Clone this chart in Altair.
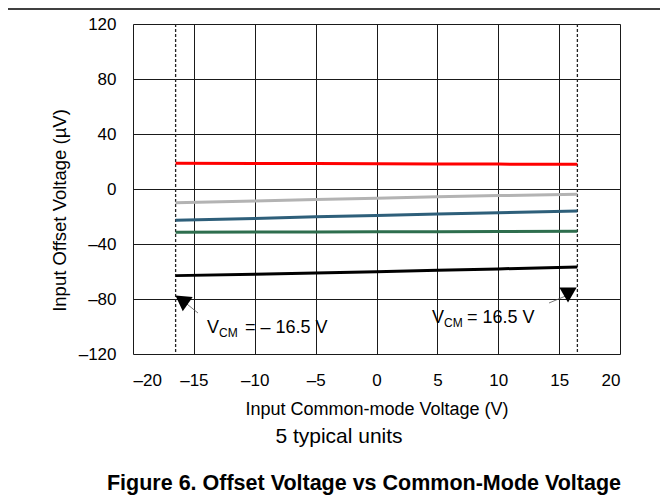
import altair as alt
import pandas as pd

# ---- data ----
vcm = [-16.5, -10, -5, 0, 5, 10, 16.5]
unit_red = [18.8, 18.6, 18.5, 18.3, 18.2, 18.1, 18.0]
unit_gray = [-10.0, -8.8, -7.7, -6.7, -5.7, -4.8, -3.9]
unit_blue = [-22.8, -21.4, -20.2, -19.2, -18.1, -17.2, -16.0]
unit_green = [-31.5, -31.3, -31.2, -31.1, -31.0, -30.9, -30.8]
unit_black = [-63.0, -62.0, -61.1, -60.2, -59.1, -58.1, -56.8]

units = ["Unit 1", "Unit 2", "Unit 3", "Unit 4", "Unit 5"]
unit_colors = ["#ff0000", "#b3b3b3", "#2e5f7a", "#2e6e4e", "#000000"]
series = [unit_red, unit_gray, unit_blue, unit_green, unit_black]

x_ticks = [-20, -15, -10, -5, 0, 5, 10, 15, 20]
y_ticks = [-120, -80, -40, 0, 40, 80, 120]
vcm_limits = [-16.5, 16.5]

rows = []
for name, vals in zip(units, series):
    for xv, yv in zip(vcm, vals):
        rows.append({"x": xv, "y": yv, "unit": name})
df = pd.DataFrame(rows)

FONT = "Liberation Sans"
label_expr = "datum.value < 0 ? '\u2013' + (-datum.value) : '' + datum.value"

X = alt.X(
    "x:Q",
    scale=alt.Scale(domain=[-20, 20], nice=False, zero=False),
    title="Input Common-mode Voltage (V)",
    axis=alt.Axis(
        values=x_ticks, labelExpr=label_expr, domain=False, ticks=False, tickSize=0,
        grid=True, gridColor="#1a1a1a", gridWidth=1,
        labelFont=FONT, labelFontSize=17, labelColor="black",
        labelPadding=31, labelBaseline="alphabetic",
        titleFont=FONT, titleFontSize=18, titleFontWeight="normal", titleColor="black",
        titleX=243.5, titleY=60, titleBaseline="alphabetic", titleAlign="center",
    ),
)
Y = alt.Y(
    "y:Q",
    scale=alt.Scale(domain=[-120, 120], nice=False, zero=False),
    title="Input Offset Voltage (\u00b5V)",
    axis=alt.Axis(
        values=y_ticks, labelExpr=label_expr, domain=False, ticks=False, tickSize=0,
        grid=True, gridColor="#1a1a1a", gridWidth=1,
        labelFont=FONT, labelFontSize=17, labelColor="black", labelPadding=17,
        titleFont=FONT, titleFontSize=18.5, titleFontWeight="normal", titleColor="black",
        titleX=-74, titleY=186, titleAngle=270, titleAlign="center", titleBaseline="middle",
    ),
)

lines = alt.Chart(df).mark_line(strokeWidth=3).encode(
    x=X, y=Y,
    color=alt.Color("unit:N", scale=alt.Scale(domain=units, range=unit_colors), legend=None),
)

limits = alt.Chart(pd.DataFrame({"x": vcm_limits})).mark_rule(
    color="#222222", strokeWidth=1.3, strokeDash=[3, 2]
).encode(x=X)

# annotation pointers (data coordinates)
arrow_df = pd.DataFrame({
    "x": [-14.66, 14.17], "y": [-90.2, -82.9],
    "x2": [-15.84, 15.73], "y2": [-81.7, -77.1],
})
arrow_lines = alt.Chart(arrow_df).mark_rule(color="#555555", strokeWidth=0.8).encode(
    x=X, y=Y, x2="x2:Q", y2="y2:Q"
)
tri_left = alt.Chart(pd.DataFrame({"x": [-15.84], "y": [-81.7]})).mark_point(
    shape="triangle", filled=True, color="black", opacity=1, size=300, angle=305
).encode(x=X, y=Y)
tri_right = alt.Chart(pd.DataFrame({"x": [15.73], "y": [-77.1]})).mark_point(
    shape="triangle-down", filled=True, color="black", opacity=1, size=300
).encode(x=X, y=Y)

lab_df = pd.DataFrame({
    "x": [-13.92, 4.56], "y": [-104.7, -97.5],
    "rest": ["= \u2013 16.5 V", "= 16.5 V"],
})
v_main = alt.Chart(lab_df).mark_text(
    align="left", baseline="alphabetic", font=FONT, fontSize=18, color="black"
).encode(x=X, y=Y, text=alt.value("V"))
v_sub = alt.Chart(lab_df).mark_text(
    align="left", baseline="alphabetic", font=FONT, fontSize=12, color="black", dx=12, dy=4
).encode(x=X, y=Y, text=alt.value("CM"))
v_rest_l = alt.Chart(lab_df.iloc[[0]]).mark_text(
    align="left", baseline="alphabetic", font=FONT, fontSize=18, color="black", dx=38
).encode(x=X, y=Y, text="rest:N")
v_rest_r = alt.Chart(lab_df.iloc[[1]]).mark_text(
    align="left", baseline="alphabetic", font=FONT, fontSize=18, color="black", dx=35
).encode(x=X, y=Y, text="rest:N")

# page furniture
top_rule = alt.Chart(pd.DataFrame({"a": [0]})).mark_rule(color="black", strokeWidth=1.5).encode(
    x=alt.value(-140), x2=alt.value(560), y=alt.value(-15)
)
note = alt.Chart(pd.DataFrame({"t": ["5 typical units"]})).mark_text(
    align="center", baseline="alphabetic", font=FONT, fontSize=21, color="black"
).encode(x=alt.value(206), y=alt.value(419), text="t:N")
caption = alt.Chart(pd.DataFrame({"t": ["Figure 6. Offset Voltage vs Common-Mode Voltage"]})).mark_text(
    align="center", baseline="alphabetic", font=FONT, fontSize=21.5, fontWeight="bold", color="black"
).encode(x=alt.value(231), y=alt.value(466), text="t:N")

chart = alt.layer(
    limits, lines, arrow_lines, tri_left, tri_right,
    v_main, v_sub, v_rest_l, v_rest_r, top_rule, note, caption,
).properties(
    width=487, height=330,
    autosize=alt.AutoSizeParams(type="none"),
    padding={"left": 125, "top": 16, "right": 40, "bottom": 143},
).configure_view(
    stroke="black", strokeWidth=2
).configure(background="white")

chart.save("out.html", embed_options={"renderer": "svg", "actions": False})
